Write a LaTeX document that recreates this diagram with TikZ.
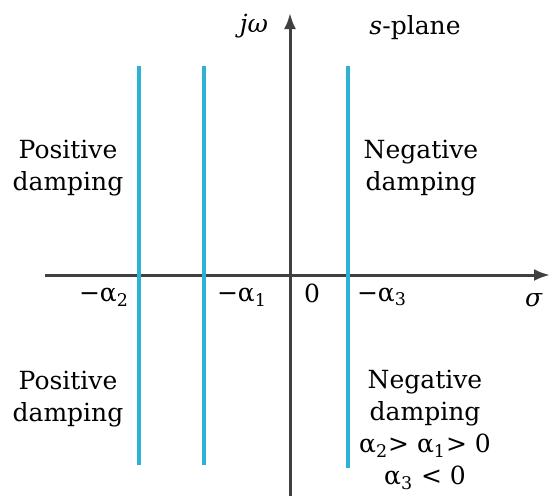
\documentclass[tikz,border=0pt]{standalone}
\usepackage{fontspec}
\setmainfont{DejaVu Serif}
\usetikzlibrary{arrows.meta}
\definecolor{rootblue}{RGB}{45,178,212}

\begin{document}
\begin{tikzpicture}[x=0.5pt, y=-0.5pt,
    axis/.style = {draw=black!75, line width=1.5pt},
    root/.style = {draw=rootblue, line width=1.6pt},
    lbl/.style = {font=\fontsize{12.5}{16}\selectfont, align=center, inner sep=0pt}]
            \useasboundingbox (0,0) rectangle (560,499);

            % axes
            \coordinate (W) at (45,275);
            \coordinate (E) at (550,275);
            \coordinate (S) at (290,496);
            \coordinate (N) at (290,13);
            \path[axis, -{Latex[length=8pt,width=6pt]}] (W) -- (E);
            \path[axis, -{Latex[length=8pt,width=6pt]}] (S) -- (N);

            % lines of constant sigma
            \coordinate (A2t) at (139,66);  \coordinate (A2b) at (139,465);
            \coordinate (A1t) at (204,66);  \coordinate (A1b) at (204,465);
            \coordinate (A3t) at (348,66);  \coordinate (A3b) at (348,468);
            \path[root] (A2t) -- (A2b);
            \path[root] (A1t) -- (A1b);
            \path[root] (A3t) -- (A3b);

            \node[lbl] (jw) at (254,26) {\textit{j}\textit{ω}};
            \node[lbl] (plane) at (415,28) {\textit{s}-plane};
            \node[lbl] (a2) at (104,297) {−α\textsubscript{2}};
            \node[lbl] (a1) at (242,297) {−α\textsubscript{1}};
            \node[lbl] (zero) at (312,293) {0};
            \node[lbl] (a3) at (382,297) {−α\textsubscript{3}};
            \node[lbl] (sigma) at (534,300) {\textit{σ}};

            \node[lbl] (posup) at (68,168) {Positive\\damping};
            \node[lbl] (negup) at (421,168) {Negative\\damping};
            \node[lbl] (posdn) at (68,399) {Positive\\damping};
            \node[lbl] (negdn) at (425,430) {Negative\\damping\\α\textsubscript{2}>~α\textsubscript{1}>~0\\α\textsubscript{3}~<~0};
        \end{tikzpicture}
\end{document}
